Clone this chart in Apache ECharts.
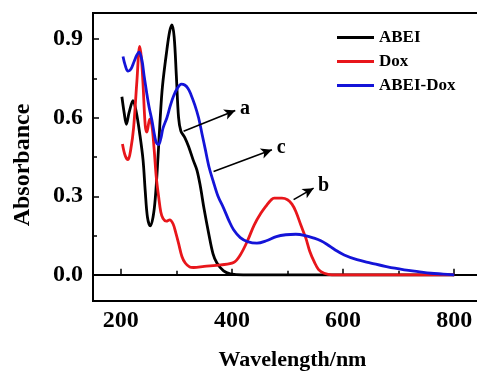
<!DOCTYPE html>
<html><head><meta charset="utf-8">
<script src="https://cdn.jsdelivr.net/npm/echarts@6/dist/echarts.min.js"></script>
<style>html,body{margin:0;padding:0;background:#fff}#c{width:477px;height:374px}</style>
</head><body><div id="c"></div>
<script>
var seriesNames = ['ABEI', 'Dox', 'ABEI-Dox'];
var xTickLabels = [200, 400, 600, 800];
var xMinorTicks = [300, 500, 700];
var yTickLabels = [0, 0.3, 0.6, 0.9];
var yMinorTicks = [0.15, 0.45, 0.75];

var abei = [[202,0.68],[206,0.62],[210,0.575],[215,0.62],[222,0.665],[228,0.62],[234,0.54],[240,0.44],[244,0.32],[248,0.22],[253,0.187],[258,0.22],[262,0.29],[267,0.45],[271,0.6],[275,0.72],[283,0.86],[288,0.93],[292,0.955],[296,0.91],[300,0.76],[304,0.6],[308,0.55],[315,0.525],[322,0.49],[330,0.44],[337,0.4],[343,0.34],[350,0.25],[358,0.16],[366,0.08],[373,0.045],[385,0.015],[397,0.004],[420,0],[800,0]];
var dox = [[203,0.5],[208,0.455],[213,0.44],[218,0.48],[223,0.56],[229,0.74],[234,0.872],[237,0.83],[240,0.73],[244,0.57],[247,0.545],[252,0.595],[256,0.57],[260,0.48],[264,0.37],[268,0.3],[272,0.24],[276,0.215],[282,0.205],[288,0.21],[294,0.195],[299,0.16],[304,0.12],[310,0.07],[316,0.045],[324,0.03],[331,0.028],[350,0.032],[380,0.038],[403,0.047],[415,0.076],[428,0.13],[440,0.19],[452,0.235],[463,0.267],[470,0.285],[476,0.293],[490,0.293],[500,0.287],[508,0.27],[515,0.242],[524,0.19],[533,0.14],[540,0.09],[548,0.05],[556,0.02],[566,0.006],[580,0],[800,0]];
var abeiDox = [[204,0.834],[208,0.8],[213,0.778],[218,0.785],[224,0.815],[229,0.84],[233,0.85],[238,0.82],[242,0.76],[247,0.69],[251,0.64],[256,0.59],[261,0.53],[264,0.505],[268,0.497],[272,0.52],[276,0.56],[283,0.6],[289,0.645],[295,0.683],[302,0.713],[309,0.728],[315,0.725],[321,0.712],[326,0.69],[333,0.65],[340,0.6],[346,0.54],[352,0.48],[359,0.41],[366,0.36],[375,0.3],[385,0.255],[395,0.205],[403,0.172],[415,0.142],[428,0.127],[445,0.121],[462,0.13],[480,0.146],[497,0.153],[515,0.155],[532,0.15],[548,0.14],[560,0.13],[572,0.115],[586,0.095],[602,0.076],[625,0.058],[650,0.045],[680,0.03],[710,0.019],[735,0.012],[758,0.006],[780,0.003],[800,0.0]];

var arrowA = [[313,0.548],[406,0.628]];
var arrowB = [[511,0.287],[547,0.331]];
var arrowC = [[367,0.395],[472,0.478]];

var FONT = '"Liberation Serif","Times New Roman",serif';
var chart = echarts.init(document.getElementById('c'));

function arrow(pts, txt) {
  return {
    silent: true,
    symbol: ['none', 'arrow'],
    symbolSize: [8, 11],
    lineStyle: { color: '#000', width: 1.6, type: 'solid' },
    label: { show: true, position: 'end', formatter: txt, color: '#000', fontFamily: FONT, fontWeight: 'bold', fontSize: 20, distance: 5 },
    data: [[{ coord: pts[0] }, { coord: pts[1] }]]
  };
}

function line(name, data, color, ml) {
  var s = {
    name: name, type: 'line', data: data, showSymbol: false, symbol: 'none',
    smooth: 0.35,
    lineStyle: { color: color, width: 2.8 }, itemStyle: { color: color },
    xAxisIndex: 0, yAxisIndex: 0
  };
  if (ml) s.markLine = ml;
  return s;
}

chart.setOption({
  animation: false,
  backgroundColor: '#fff',
  grid: { left: 93, top: 13, bottom: 73, width: 389, outerBoundsMode: 'none', containLabel: false, show: true, borderColor: '#000', borderWidth: 2, backgroundColor: 'transparent' },
  legend: {
    orient: 'vertical', left: 337, top: 29, padding: 0, itemWidth: 37, itemHeight: 3, itemGap: 7, icon: 'rect',
    textStyle: { fontFamily: FONT, fontWeight: 'bold', fontSize: 17, color: '#000', lineHeight: 17 },
    data: seriesNames
  },
  xAxis: [{
    type: 'value', min: 150, max: 850, position: 'bottom',
    name: 'Wavelength/nm', nameLocation: 'middle', nameGap: 48,
    nameTextStyle: { fontFamily: FONT, fontWeight: 'bold', fontSize: 22, color: '#000', padding: [0, 0, 0, 10] },
    axisLine: { lineStyle: { color: '#000', width: 2 } },
    axisTick: { inside: true, length: 6, lineStyle: { color: '#000', width: 1.5 }, customValues: xTickLabels },
    axisLabel: { fontFamily: FONT, fontWeight: 'bold', fontSize: 24, color: '#000', margin: 8, customValues: xTickLabels },
    splitLine: { show: false }
  }, {
    type: 'value', min: 150, max: 850, position: 'bottom', offset: 0,
    axisLine: { show: false },
    axisTick: { inside: true, length: 4, lineStyle: { color: '#000', width: 1.5 }, customValues: xMinorTicks },
    axisLabel: { show: false }, splitLine: { show: false }
  }],
  yAxis: [{
    type: 'value', min: -0.1, max: 1.0, position: 'left',
    name: 'Absorbance', nameLocation: 'middle', nameGap: 58, nameRotate: 90,
    nameTextStyle: { fontFamily: FONT, fontWeight: 'bold', fontSize: 24, color: '#000', padding: [0, 16, 0, 0] },
    axisLine: { show: true, lineStyle: { color: '#000', width: 2 } },
    axisTick: { show: true, inside: true, length: 6, lineStyle: { color: '#000', width: 1.5 }, customValues: yTickLabels },
    axisLabel: { fontFamily: FONT, fontWeight: 'bold', fontSize: 24, color: '#000', margin: 10, customValues: yTickLabels, formatter: function (v) { return v.toFixed(1); } },
    splitLine: { show: false }
  }, {
    type: 'value', min: -0.1, max: 1.0, position: 'left', offset: 0,
    axisLine: { show: false },
    axisTick: { show: true, inside: true, length: 4, lineStyle: { color: '#000', width: 1.5 }, customValues: yMinorTicks },
    axisLabel: { show: false }, splitLine: { show: false }
  }],
  series: [
    line('ABEI', abei, '#000000', arrow(arrowA, 'a')),
    line('Dox', dox, '#e8161b', arrow(arrowB, 'b')),
    line('ABEI-Dox', abeiDox, '#1414d8', arrow(arrowC, 'c'))
  ]
});
</script></body></html>
